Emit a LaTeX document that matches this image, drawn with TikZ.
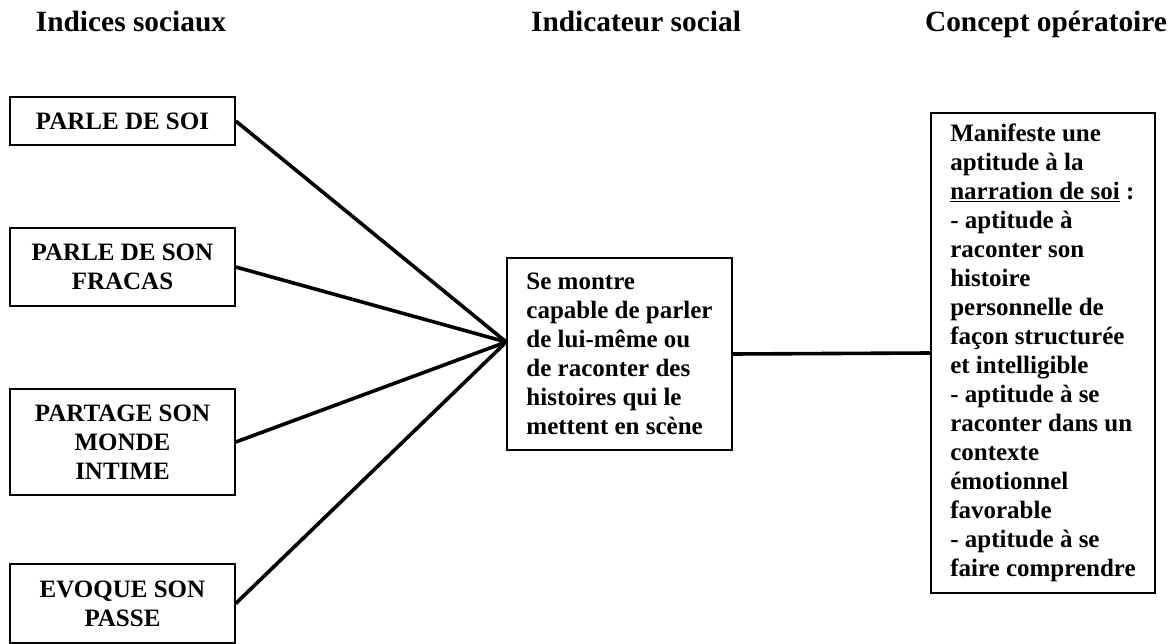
\documentclass[tikz,border=0pt]{standalone}
\usepackage{fontspec}
\setmainfont{Liberation Serif}
\begin{document}
\begin{tikzpicture}[x=1pt,y=-1pt,
  every node/.style={font=\fontsize{25}{29}\selectfont\bfseries},
  header/.style={font=\fontsize{29.4}{34}\selectfont\bfseries, anchor=base, inner sep=0pt},
  indice/.style={draw, line width=1.5pt, inner sep=0pt, align=center, minimum width=225pt},
  textbox/.style={draw, line width=1.5pt, inner sep=0pt, align=left},
  link/.style={line width=3.6pt}]
\useasboundingbox (0,0) rectangle (1170,644);

% column titles
\node[header] (h1) at (131,32) {Indices sociaux};
\node[header] (h2) at (636,32) {Indicateur social};
\node[header] (h3) at (1046,32) {Concept opératoire};

% social indices
\node[indice, minimum height=48pt] (b1) at (122.5,121) {PARLE DE SOI};
\node[indice, minimum height=78pt] (b2) at (122.5,267) {PARLE DE SON\\FRACAS};
\node[indice, minimum height=106pt] (b3) at (122.5,442) {PARTAGE SON\\MONDE\\INTIME};
\node[indice, minimum height=79pt] (b4) at (122.5,603.5) {EVOQUE SON\\PASSE};

% social indicator
\node[textbox, minimum width=225pt, minimum height=192pt] (mid) at (619.5,354)
  {Se montre\\capable de parler\\de lui-même ou\\de raconter des\\histoires qui le\\mettent en scène};

% operational concept
\node[textbox, minimum width=224pt, minimum height=480pt] (concept) at (1043,353)
  {Manifeste une\\aptitude à la\\\underline{narration de soi} :\\- aptitude à\\raconter son\\histoire\\personnelle de\\façon structurée\\et intelligible\\- aptitude à se\\raconter dans un\\contexte\\émotionnel\\favorable\\- aptitude à se\\faire comprendre};

% connectors
\coordinate (hub) at ([yshift=12pt]mid.west);
\draw[link] (b1.east) -- (hub);
\draw[link] (b2.east) -- (hub);
\draw[link] (b3.east) -- (hub);
\draw[link] (b4.east) -- (hub);
\draw[link] (mid.east) -- (concept.west);
\end{tikzpicture}
\end{document}
